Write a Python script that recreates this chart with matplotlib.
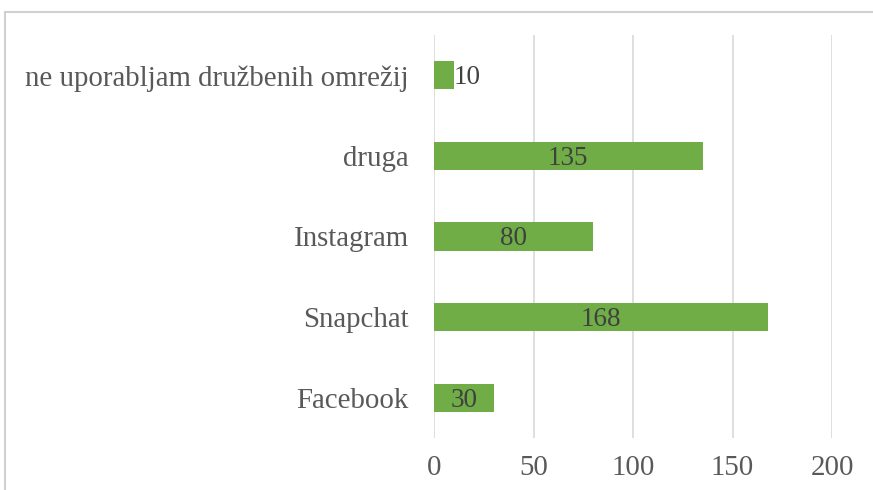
import matplotlib
matplotlib.use("Agg")
import matplotlib.pyplot as plt
from matplotlib.patches import Rectangle

categories = ["Facebook", "Snapchat", "Instagram", "druga", "ne uporabljam družbenih omrežij"]
values = [30, 168, 80, 135, 10]
xticks = [0, 50, 100, 150, 200]

W, H = 873, 490
fig = plt.figure(figsize=(W / 100, H / 100), dpi=100)
plt.rcParams['font.family'] = ['Liberation Serif', 'DejaVu Serif']

# outer chart border (light gray)
fig.patches.append(Rectangle((5 / W, -0.1), 1.2, 1 - 12 / H + 0.1, transform=fig.transFigure,
                             fill=False, edgecolor="#D0D0D0", linewidth=1.5))

left, right = 434 / W, 832 / W
top, bottom = 1 - 35 / H, 1 - 438 / H
ax = fig.add_axes([left, bottom, right - left, top - bottom])

y = list(range(len(categories)))
ax.barh(y, values, height=0.35, color="#70AD47", zorder=3)
ax.set_xlim(0, 200)
ax.set_ylim(-0.5, len(categories) - 0.5)
ax.set_xticks(xticks)
ax.set_xticklabels([str(t) for t in xticks])
ax.set_yticks(y)
ax.set_yticklabels(categories)
ax.tick_params(axis='both', length=0, labelsize=20.8, colors="#595959")
ax.tick_params(axis='x', pad=12)
ax.tick_params(axis='y', pad=18)
ax.grid(axis='x', color="#D9D9D9", linewidth=1.2, zorder=0)
for s in ax.spines.values():
    s.set_visible(False)

for yi, v in zip(y, values):
    if v < 20:
        ax.text(v, yi - 0.03, str(v), ha='left', va='center', fontsize=19.5, color="#404040", zorder=4)
    else:
        ax.text(v / 2, yi - 0.03, str(v), ha='center', va='center', fontsize=19.5, color="#404040", zorder=4)

fig.savefig("out.png", dpi=100)
